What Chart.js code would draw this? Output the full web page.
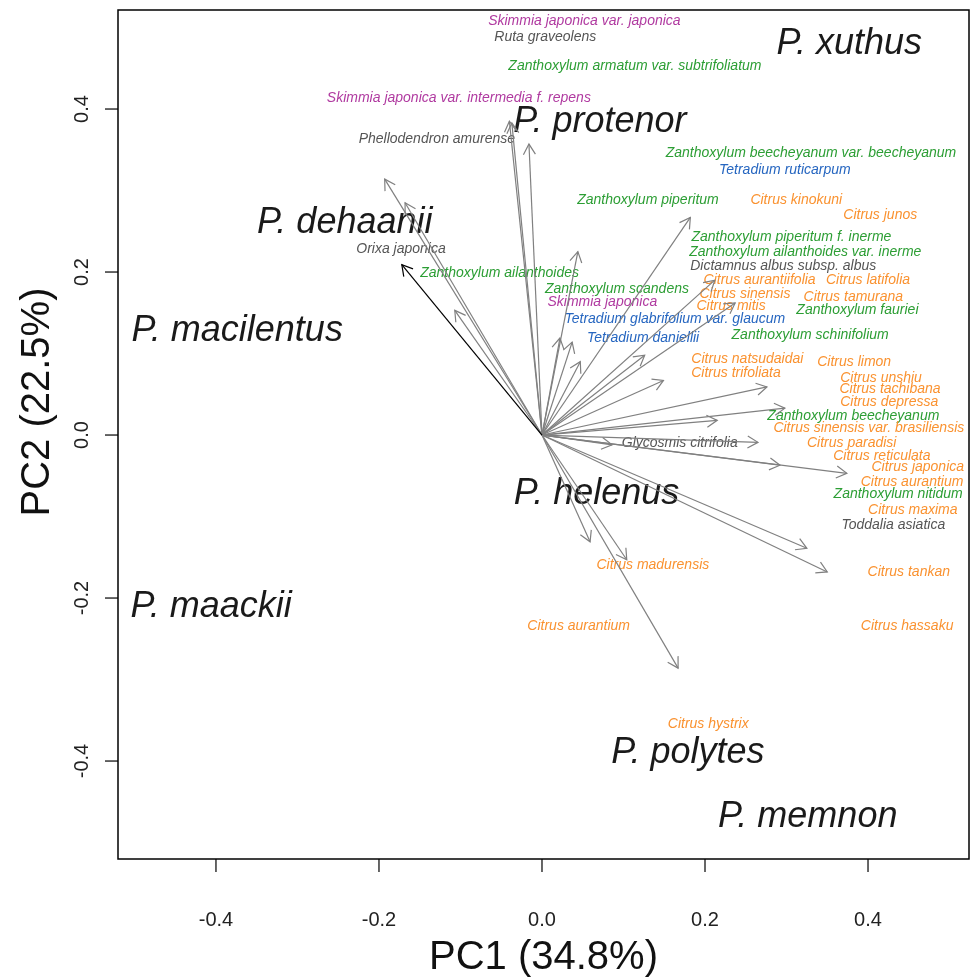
<!DOCTYPE html>
<html>
<head>
<meta charset="utf-8">
<script src="https://cdn.jsdelivr.net/npm/chart.js@4.4.1/dist/chart.umd.min.js"></script>
<style>
html, body { margin: 0; padding: 0; background: #fff; }
</style>
</head>
<body>
<canvas id="pcaChart" width="971" height="978"></canvas>
<script>
// plant species (labels), PC1 / PC2 positions and colour group
const speciesNames = [
  'Skimmia japonica var. japonica', 'Ruta graveolens', 'Zanthoxylum armatum var. subtrifoliatum',
  'Skimmia japonica var. intermedia f. repens', 'Phellodendron amurense',
  'Zanthoxylum beecheyanum var. beecheyanum', 'Tetradium ruticarpum', 'Zanthoxylum piperitum',
  'Citrus kinokuni', 'Citrus junos', 'Zanthoxylum piperitum f. inerme', 'Orixa japonica',
  'Zanthoxylum ailanthoides var. inerme', 'Dictamnus albus subsp. albus', 'Zanthoxylum ailanthoides',
  'Citrus aurantiifolia', 'Citrus latifolia', 'Zanthoxylum scandens', 'Citrus sinensis',
  'Citrus tamurana', 'Skimmia japonica', 'Citrus mitis', 'Zanthoxylum fauriei',
  'Tetradium glabrifolium var. glaucum', 'Zanthoxylum schinifolium', 'Tetradium daniellii',
  'Citrus natsudaidai', 'Citrus limon', 'Citrus trifoliata', 'Citrus unshiu', 'Citrus tachibana',
  'Citrus depressa', 'Zanthoxylum beecheyanum', 'Citrus sinensis var. brasiliensis',
  'Glycosmis citrifolia', 'Citrus paradisi', 'Citrus reticulata', 'Citrus japonica',
  'Citrus aurantium', 'Zanthoxylum nitidum', 'Citrus maxima', 'Toddalia asiatica',
  'Citrus madurensis', 'Citrus tankan', 'Citrus aurantium', 'Citrus hassaku', 'Citrus hystrix'
];
const speciesX = [
  0.052, 0.004, 0.114, -0.102, -0.129, 0.330, 0.298, 0.130, 0.312, 0.415, 0.306, -0.173,
  0.323, 0.296, -0.052, 0.267, 0.400, 0.092, 0.249, 0.382, 0.074, 0.232, 0.387, 0.163,
  0.329, 0.124, 0.252, 0.383, 0.238, 0.416, 0.427, 0.426, 0.382, 0.401, 0.169, 0.380,
  0.417, 0.461, 0.454, 0.437, 0.455, 0.431, 0.136, 0.450, 0.045, 0.448, 0.204
];
const speciesY = [
  0.508, 0.488, 0.453, 0.414, 0.363, 0.346, 0.325, 0.288, 0.288, 0.270, 0.243, 0.228,
  0.225, 0.207, 0.199, 0.190, 0.190, 0.179, 0.173, 0.169, 0.163, 0.158, 0.153, 0.142,
  0.123, 0.119, 0.093, 0.090, 0.076, 0.070, 0.056, 0.040, 0.023, 0.009, -0.010, -0.010,
  -0.026, -0.039, -0.058, -0.072, -0.092, -0.110, -0.160, -0.168, -0.234, -0.234, -0.355
];
const speciesGroup = [
  'S', 'O', 'Z', 'S', 'O', 'Z', 'T', 'Z', 'C', 'C', 'Z', 'O',
  'Z', 'O', 'Z', 'C', 'C', 'Z', 'C', 'C', 'S', 'C', 'Z', 'T',
  'Z', 'T', 'C', 'C', 'C', 'C', 'C', 'C', 'Z', 'C', 'O', 'C',
  'C', 'C', 'C', 'Z', 'C', 'O', 'C', 'C', 'C', 'C', 'C'
];
const groupColors = {
  S: 'rgb(176, 58, 160)',  // Skimmia
  O: 'rgb(85, 85, 85)',    // other genera
  Z: 'rgb(44, 158, 52)',   // Zanthoxylum
  T: 'rgb(38, 102, 192)',  // Tetradium
  C: 'rgb(250, 146, 48)'   // Citrus
};

// butterflies (big labels)
const butterflyNames = ['P. xuthus', 'P. protenor', 'P. dehaanii', 'P. macilentus',
  'P. helenus', 'P. maackii', 'P. polytes', 'P. memnon'];
const butterflyX = [0.377, 0.071, -0.242, -0.374, 0.067, -0.406, 0.179, 0.326];
const butterflyY = [0.480, 0.384, 0.260, 0.128, -0.072, -0.211, -0.390, -0.469];

// loading arrows (tips), all start at the origin
const arrowX = [-0.172, -0.193, -0.168, -0.107, -0.040, -0.037, -0.016, 0.044, 0.182, 0.212,
  0.237, 0.022, 0.037, 0.047, 0.126, 0.149, 0.276, 0.298, 0.215, 0.265, 0.086, 0.292,
  0.374, 0.059, 0.104, 0.167, 0.325, 0.350];
const arrowY = [0.209, 0.314, 0.285, 0.153, 0.385, 0.383, 0.357, 0.225, 0.267, 0.190,
  0.162, 0.119, 0.114, 0.090, 0.098, 0.067, 0.059, 0.033, 0.018, -0.009, -0.012, -0.037,
  -0.047, -0.131, -0.153, -0.286, -0.139, -0.168];
const arrowDark = [true];

const tickValues = [-0.4, -0.2, 0.0, 0.2, 0.4];

const arrowDatasets = arrowX.map((x, i) => ({
  type: 'line',
  data: [{ x: 0, y: 0 }, { x: x, y: arrowY[i] }],
  borderColor: arrowDark[i] ? '#000000' : 'rgb(128, 128, 128)',
  borderWidth: 1.2,
  pointRadius: 0,
  fill: false,
  tension: 0
}));

// text labels, under the arrows
const labelPlugin = {
  id: 'labels',
  beforeDatasetsDraw(chart) {
    const { ctx, scales: { x, y } } = chart;
    ctx.save();
    ctx.textAlign = 'center';
    ctx.textBaseline = 'middle';
    ctx.font = 'italic 36px "Liberation Sans", Arial, sans-serif';
    ctx.fillStyle = '#1a1a1a';
    butterflyNames.forEach((n, i) => {
      ctx.fillText(n, x.getPixelForValue(butterflyX[i]), y.getPixelForValue(butterflyY[i]));
    });
    ctx.font = 'italic 14px "Liberation Sans", Arial, sans-serif';
    speciesNames.forEach((n, i) => {
      ctx.fillStyle = groupColors[speciesGroup[i]];
      ctx.fillText(n, x.getPixelForValue(speciesX[i]), y.getPixelForValue(speciesY[i]));
    });
    ctx.restore();
  },
  afterDatasetsDraw(chart) {
    // arrow heads
    const ctx = chart.ctx;
    ctx.save();
    chart.data.datasets.forEach((ds, i) => {
      const pts = chart.getDatasetMeta(i).data;
      if (pts.length < 2) return;
      const x0 = pts[0].x, y0 = pts[0].y, x1 = pts[1].x, y1 = pts[1].y;
      const a = Math.atan2(y1 - y0, x1 - x0);
      const len = 12, spread = Math.PI / 6;
      ctx.strokeStyle = ds.borderColor;
      ctx.lineWidth = 1.2;
      ctx.beginPath();
      ctx.moveTo(x1 - len * Math.cos(a - spread), y1 - len * Math.sin(a - spread));
      ctx.lineTo(x1, y1);
      ctx.lineTo(x1 - len * Math.cos(a + spread), y1 - len * Math.sin(a + spread));
      ctx.stroke();
    });
    ctx.restore();
  },
  afterDraw(chart) {
    const { ctx, chartArea: area, scales: { x, y } } = chart;
    ctx.save();
    // frame
    ctx.strokeStyle = '#000';
    ctx.lineWidth = 1.5;
    ctx.strokeRect(area.left, area.top, area.right - area.left, area.bottom - area.top);
    // ticks
    ctx.lineWidth = 1.2;
    ctx.fillStyle = '#222';
    ctx.font = '20px "Liberation Sans", Arial, sans-serif';
    ctx.textAlign = 'center';
    ctx.textBaseline = 'middle';
    tickValues.forEach(v => {
      const px = x.getPixelForValue(v);
      ctx.beginPath();
      ctx.moveTo(px, area.bottom);
      ctx.lineTo(px, area.bottom + 13);
      ctx.stroke();
      ctx.fillText(v.toFixed(1), px, area.bottom + 61);
      const py = y.getPixelForValue(v);
      ctx.beginPath();
      ctx.moveTo(area.left, py);
      ctx.lineTo(area.left - 13, py);
      ctx.stroke();
      ctx.save();
      ctx.translate(area.left - 36, py);
      ctx.rotate(-Math.PI / 2);
      ctx.fillText(v.toFixed(1), 0, 0);
      ctx.restore();
    });
    // axis titles
    ctx.font = '40px "Liberation Sans", Arial, sans-serif';
    ctx.fillStyle = '#111';
    ctx.fillText('PC1 (34.8%)', (area.left + area.right) / 2, 958);
    ctx.save();
    ctx.translate(38, 402);
    ctx.rotate(-Math.PI / 2);
    ctx.fillText('PC2 (22.5%)', 0, 0);
    ctx.restore();
    ctx.restore();
  }
};

const ctx = document.getElementById('pcaChart').getContext('2d');
const pcaChart = new Chart(ctx, {
  type: 'scatter',
  data: { datasets: arrowDatasets },
  options: {
    responsive: false,
    animation: false,
    layout: { padding: { top: 10, right: 2, left: 0, bottom: 0 } },
    scales: {
      x: {
        type: 'linear',
        min: -0.5202,
        max: 0.5239,
        afterFit: s => { s.height = 119; },
        afterBuildTicks: s => { s.ticks = tickValues.map(v => ({ value: v })); },
        ticks: { display: false },
        grid: { display: false },
        border: { display: false }
      },
      y: {
        type: 'linear',
        min: -0.5202,
        max: 0.5215,
        afterFit: s => { s.width = 118; },
        afterBuildTicks: s => { s.ticks = tickValues.map(v => ({ value: v })); },
        ticks: { display: false },
        grid: { display: false },
        border: { display: false }
      }
    },
    plugins: {
      legend: { display: false },
      tooltip: { enabled: false }
    }
  },
  plugins: [labelPlugin]
});
</script>
</body>
</html>
